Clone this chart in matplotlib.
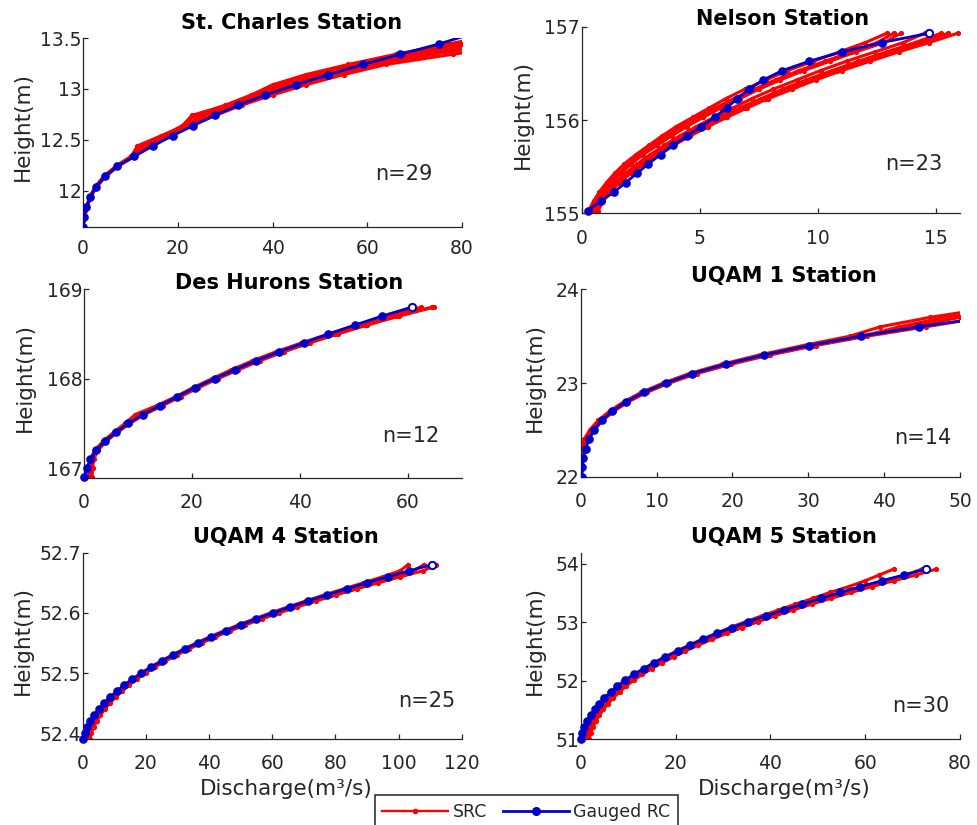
import matplotlib
matplotlib.use("Agg")
import matplotlib.pyplot as plt
from matplotlib.ticker import FuncFormatter
from matplotlib.lines import Line2D

# ---- St. Charles ----
h_stc = [11.64, 11.74, 11.84, 11.94, 12.04, 12.14, 12.24, 12.34, 12.44, 12.54,
         12.64, 12.74, 12.84, 12.94, 13.04, 13.14, 13.24, 13.34, 13.44, 13.54]
q_stc = [0, 0.2, 0.7, 1.55, 2.8, 4.65, 7.26, 10.85, 14.8, 18.9,
         23.3, 27.8, 32.8, 38.5, 44.9, 51.8, 59.1, 67.0, 75.05, 82]
src_stc = [
    [0, 0.3, 0.8, 1.4, 2.6, 4.4, 6.9, 10.2, 11.5, 16.5, 21.5, 23.5, 30, 35.5, 40, 47, 56, 66, 77, 88],
    [0, 0.3, 0.8, 1.5, 2.7, 4.5, 7.0, 10.5, 12.5, 17.5, 22.0, 25.5, 31, 37, 42, 49, 58, 68, 80, 92],
    [0, 0.3, 0.9, 1.6, 2.8, 4.6, 7.2, 10.8, 13.5, 18, 22.5, 27, 32, 38, 44, 51.5, 60, 71, 84, 97],
    [0, 0.3, 0.9, 1.6, 2.9, 4.8, 7.4, 11.0, 14.5, 18.5, 23.0, 28, 33.5, 40, 47, 55, 64, 78, 93, 108],
    [0, 0.25, 0.8, 1.5, 2.7, 4.5, 7.1, 10.6, 12, 17, 21, 23, 30.5, 36, 41, 48, 57, 67, 79, 91],
    [0, 0.3, 0.85, 1.55, 2.75, 4.55, 7.1, 10.7, 11.8, 17.2, 22.2, 24.5, 31.5, 37.5, 43, 50, 58.5, 69, 81, 94],
    [0, 0.3, 0.9, 1.6, 2.85, 4.7, 7.3, 10.9, 14, 18.2, 22.8, 27.5, 33, 39, 45.5, 53, 62, 74, 88, 102],
]

# ---- Nelson ----
h_nel = [155.03, 155.13, 155.23, 155.33, 155.43, 155.53, 155.63, 155.73, 155.83, 155.93,
         156.03, 156.13, 156.23, 156.33, 156.43, 156.53, 156.63, 156.73, 156.83, 156.93]
q_nel = [0.25, 0.82, 1.37, 1.87, 2.34, 2.82, 3.34, 3.87, 4.46, 5.06,
         5.62, 6.13, 6.58, 7.08, 7.68, 8.49, 9.62, 11.0, 12.69, 14.69]
src_nel = [
    [0.3, 0.5, 0.75, 1.05, 1.4, 1.8, 2.3, 2.85, 3.4, 4.0, 4.7, 5.4, 6.1, 6.9, 7.8, 8.7, 9.8, 10.9, 12.0, 12.9],
    [0.4, 0.6, 0.9, 1.25, 1.65, 2.1, 2.6, 3.2, 3.8, 4.45, 5.15, 5.9, 6.7, 7.5, 8.4, 9.4, 10.5, 11.6, 12.8, 13.5],
    [0.5, 0.7, 1.0, 1.4, 1.85, 2.35, 2.9, 3.5, 4.15, 4.85, 5.6, 6.4, 7.2, 8.1, 9.1, 10.1, 11.2, 12.4, 13.6, 14.5],
    [0.7, 0.9, 1.2, 1.6, 2.1, 2.65, 3.25, 3.9, 4.6, 5.35, 6.15, 7.0, 7.9, 8.9, 9.9, 11.0, 12.2, 13.4, 14.7, 15.9],
    [0.5, 0.75, 1.1, 1.5, 1.95, 2.5, 3.05, 3.7, 4.35, 5.05, 5.85, 6.7, 7.6, 8.5, 9.5, 10.6, 11.7, 12.9, 14.1, 15.2],
    [0.35, 0.55, 0.85, 1.2, 1.55, 2.0, 2.45, 3.0, 3.6, 4.2, 4.9, 5.65, 6.45, 7.3, 8.2, 9.2, 10.3, 11.4, 12.5, 13.2],
    [0.6, 0.8, 1.15, 1.55, 2.0, 2.55, 3.15, 3.8, 4.5, 5.2, 6.0, 6.85, 7.75, 8.7, 9.7, 10.8, 11.95, 13.1, 14.4, 15.5],
]

# ---- Des Hurons ----
h_dh = [166.9, 167.0, 167.1, 167.2, 167.3, 167.4, 167.5, 167.6, 167.7, 167.8,
        167.9, 168.0, 168.1, 168.2, 168.3, 168.4, 168.5, 168.6, 168.7, 168.8]
q_dh = [0.06, 0.5, 1.2, 2.3, 3.85, 5.87, 8.2, 11.0, 14.1, 17.3,
        20.55, 24.2, 27.9, 31.8, 36.1, 40.7, 45.3, 50.2, 55.2, 60.7]
src_dh = [
    [0.8, 1.0, 1.1, 2.0, 3.5, 5.5, 7.6, 9.5, 13.5, 17.0, 20.2, 23.7, 27.3, 31.2, 35.5, 40.3, 45.3, 50.6, 56.2, 62.5],
    [1.2, 1.3, 1.5, 2.4, 3.9, 6.0, 8.3, 10.5, 14.3, 17.6, 20.9, 24.5, 28.3, 32.3, 36.7, 41.5, 46.6, 52.0, 57.8, 64.5],
    [1.5, 1.6, 1.8, 2.6, 4.1, 6.2, 8.5, 11.2, 14.6, 17.9, 21.2, 24.8, 28.6, 32.6, 37.0, 41.8, 47.0, 52.5, 58.4, 64.8],
]

# ---- UQAM 1 ----
h_u1 = [22.0, 22.1, 22.2, 22.3, 22.4, 22.5, 22.6, 22.7, 22.8, 22.9,
        23.0, 23.1, 23.2, 23.3, 23.4, 23.5, 23.6, 23.7]
q_u1 = [0.2, 0.2, 0.35, 0.66, 1.1, 1.8, 2.77, 4.17, 5.98, 8.3,
        11.25, 14.7, 19.1, 24.2, 30.1, 36.9, 44.6, 53.5]
hs_u1 = [22.2, 22.3, 22.4, 22.5, 22.6, 22.7, 22.8, 22.9, 23.0, 23.1,
         23.2, 23.3, 23.4, 23.5, 23.6, 23.7, 23.8]
src_u1 = [
    [0.0, 0.2, 0.45, 1.2, 2.3, 3.8, 5.7, 8.0, 10.9, 14.3, 18.6, 23.6, 29.3, 35.5, 39.5, 46, 54],
    [0.1, 0.3, 0.6, 1.5, 2.6, 4.1, 6.0, 8.4, 11.3, 14.8, 19.2, 24.3, 30.2, 36.8, 43.5, 50, 58],
    [0.3, 0.5, 0.9, 1.8, 2.9, 4.4, 6.3, 8.7, 11.7, 15.3, 19.8, 25.0, 31.0, 37.8, 45.5, 53, 62],
    [0.2, 0.4, 0.75, 1.6, 2.7, 4.2, 6.1, 8.5, 11.5, 15.0, 19.5, 24.7, 30.6, 37.2, 42.0, 48, 56],
]

# ---- UQAM 4 ----
h_u4 = [52.39, 52.40, 52.41, 52.42, 52.43, 52.44, 52.45, 52.46, 52.47, 52.48,
        52.49, 52.50, 52.51, 52.52, 52.53, 52.54, 52.55, 52.56, 52.57, 52.58,
        52.59, 52.60, 52.61, 52.62, 52.63, 52.64, 52.65, 52.66, 52.67, 52.68]
q_u4 = [0.2, 0.7, 1.5, 2.3, 3.6, 5.1, 6.75, 8.65, 10.8, 13.1,
        15.7, 18.6, 21.6, 25, 28.5, 32.4, 36.4, 40.6, 45.3, 50,
        54.9, 60.2, 65.7, 71.4, 77.4, 83.6, 89.9, 96.6, 103.4, 110.5]
src_u4 = [
    [1.0, 1.5, 2.2, 3.0, 4.2, 5.6, 7.2, 9.0, 11.0, 13.3, 15.8, 18.6, 21.6, 24.8, 28.3,
     32.0, 36.0, 40.2, 44.6, 49.3, 54.3, 59.5, 65.0, 70.7, 76.6, 82.7, 88.9, 95.0, 100.5, 103],
    [1.5, 2.0, 2.8, 3.7, 4.9, 6.3, 7.9, 9.7, 11.7, 13.9, 16.4, 19.2, 22.2, 25.5, 29.0,
     32.8, 36.8, 41.1, 45.6, 50.4, 55.5, 60.9, 66.5, 72.4, 78.5, 84.8, 91.3, 98.0, 104.8, 108],
    [2.2, 2.7, 3.5, 4.4, 5.6, 7.0, 8.6, 10.4, 12.4, 14.6, 17.1, 19.9, 22.9, 26.2, 29.8,
     33.6, 37.7, 42.0, 46.6, 51.5, 56.7, 62.2, 68.0, 74.0, 80.3, 86.8, 93.6, 100.6, 107.8, 112],
]

# ---- UQAM 5 ----
h_u5 = [51.01, 51.11, 51.21, 51.31, 51.41, 51.51, 51.61, 51.71, 51.81, 51.91,
        52.01, 52.11, 52.21, 52.31, 52.41, 52.51, 52.61, 52.71, 52.81, 52.91,
        53.01, 53.11, 53.21, 53.31, 53.41, 53.51, 53.61, 53.71, 53.81, 53.91]
q_u5 = [0, 0.3, 0.8, 1.4, 2.1, 3.0, 3.9, 5.0, 6.3, 7.7,
        9.3, 11.2, 13.3, 15.5, 17.8, 20.5, 23.0, 25.8, 28.7, 31.9,
        35.3, 39.1, 42.9, 46.7, 50.7, 54.7, 59.0, 63.5, 68.2, 72.8]
src_u5 = [
    [0.6, 0.9, 1.3, 1.9, 2.6, 3.5, 4.4, 5.5, 6.7, 8.1, 9.6, 11.4, 13.4, 15.5, 17.8,
     20.3, 22.9, 25.6, 28.5, 31.5, 34.8, 38.2, 41.7, 45.3, 49.0, 52.6, 56.5, 60.0, 63.0, 66.0],
    [1.2, 1.5, 2.0, 2.6, 3.3, 4.2, 5.1, 6.2, 7.4, 8.8, 10.3, 12.1, 14.1, 16.2, 18.6,
     21.1, 23.7, 26.5, 29.5, 32.7, 36.0, 39.5, 43.2, 47.0, 51.0, 55.2, 59.5, 64.0, 68.6, 72.0],
    [1.8, 2.1, 2.6, 3.2, 3.9, 4.8, 5.8, 6.9, 8.2, 9.6, 11.2, 13.0, 15.0, 17.2, 19.6,
     22.1, 24.8, 27.7, 30.8, 34.0, 37.4, 41.0, 44.8, 48.7, 52.8, 57.0, 61.4, 66.0, 70.8, 75.0],
]

titles = ["St. Charles Station", "Nelson Station", "Des Hurons Station",
          "UQAM 1 Station", "UQAM 4 Station", "UQAM 5 Station"]
n_text = ["n=29", "n=23", "n=12", "n=14", "n=25", "n=30"]

W, H = 977, 825
blue = (0.0, 0.0, 0.8)
dark = "#262626"

# panel layout in pixels: left, right, top, bottom
boxes = [(83, 462, 38, 227.3), (581.7, 960, 26.7, 213.3),
         (84, 461.7, 289.3, 478), (580.7, 960, 289.3, 476.7),
         (82.7, 461.7, 552.7, 739.3), (580.7, 960, 552.7, 739.3)]

panels = [
    dict(h=h_stc, q=q_stc, hs=h_stc, src=src_stc, xlim=(0, 80), ylim=(11.64, 13.5),
         xt=[0, 20, 40, 60, 80], yt=[12, 12.5, 13, 13.5], tb=29.3, tx=0.55,
         nx=0.847, ny=0.279, lx=-50, xpad=8.3, clip=True),
    dict(h=h_nel, q=q_nel, hs=h_nel, src=src_nel, xlim=(0, 16), ylim=(155, 157),
         xt=[0, 5, 10, 15], yt=[155, 156, 157], tb=25, tx=0.531,
         nx=0.877, ny=0.263, lx=-48.4, xpad=11, clip=False),
    dict(h=h_dh, q=q_dh, hs=h_dh, src=src_dh, xlim=(0, 70), ylim=(166.89, 169),
         xt=[0, 20, 40, 60], yt=[167, 168, 169], tb=289.3, tx=0.542,
         nx=0.866, ny=0.225, lx=-49, xpad=11, clip=False),
    dict(h=h_u1, q=q_u1, hs=hs_u1, src=src_u1, xlim=(0, 50), ylim=(22, 24),
         xt=[0, 10, 20, 30, 40, 50], yt=[22, 23, 24], tb=281.5, tx=0.535,
         nx=0.902, ny=0.209, lx=-35.7, xpad=11, clip=True),
    dict(h=h_u4, q=q_u4, hs=h_u4, src=src_u4, xlim=(0, 120), ylim=(52.39, 52.7),
         xt=[0, 20, 40, 60, 80, 100, 120], yt=[52.4, 52.5, 52.6, 52.7], tb=543.3, tx=0.535,
         nx=0.908, ny=0.204, lx=-49.4, xpad=10.8, clip=False),
    dict(h=h_u5, q=q_u5, hs=h_u5, src=src_u5, xlim=(0, 80), ylim=(51, 54.19),
         xt=[0, 20, 40, 60, 80], yt=[51, 52, 53, 54], tb=543.3, tx=0.535,
         nx=0.897, ny=0.177, lx=-35.7, xpad=10.8, clip=False),
]

plt.rcParams['font.family'] = ['DejaVu Sans']
fig = plt.figure(figsize=(W / 100, H / 100), dpi=100)
fmt = FuncFormatter(lambda v, p: "%g" % round(v, 4))

for i, p in enumerate(panels):
    l, r, t, b = boxes[i]
    ax = fig.add_axes([l / W, 1 - b / H, (r - l) / W, (b - t) / H])
    for qs in p["src"]:
        ax.plot(qs, p["hs"], color="red", lw=2.2, marker=".", ms=5.5, zorder=2)
    ax.plot(p["q"], p["h"], color=blue, lw=2, marker="o", ms=5.2, mfc=blue, mec=blue,
            zorder=3, clip_on=p["clip"])
    ax.plot(p["q"][-1:], p["h"][-1:], ls="none", marker="o", ms=5.2, mfc="white",
            mec=blue, mew=1.4, zorder=4, clip_on=p["clip"])
    ax.set_xlim(*p["xlim"])
    ax.set_ylim(*p["ylim"])
    ax.set_xticks(p["xt"])
    ax.set_yticks(p["yt"])
    ax.xaxis.set_major_formatter(fmt)
    ax.yaxis.set_major_formatter(fmt)
    for s in ["top", "right"]:
        ax.spines[s].set_visible(False)
    for s in ["left", "bottom"]:
        ax.spines[s].set_color(dark)
        ax.spines[s].set_linewidth(0.9)
    ax.tick_params(axis="both", direction="in", length=3.5, width=0.9, colors=dark,
                   labelsize=13.5, labelcolor=dark)
    ax.tick_params(axis="y", pad=1.2)
    ax.tick_params(axis="x", pad=p["xpad"])
    ax.set_title(titles[i], fontsize=15, fontweight="bold", color="black",
                 x=p["tx"], y=1 + (t - p["tb"]) / (b - t), pad=0)
    ax.set_ylabel("Height(m)", fontsize=15.5, color=dark)
    ax.yaxis.set_label_coords(p["lx"] / (r - l), 0.53)
    ax.text(p["nx"], p["ny"], n_text[i], transform=ax.transAxes, fontsize=15,
            color=dark, ha="center", va="center")
    if i >= 4:
        ax.set_xlabel("Discharge(m³/s)", fontsize=15.5, color=dark)
        ax.xaxis.set_label_coords(0.536, -(779 - b) / (b - t))

handles = [Line2D([], [], color="red", lw=1.7, marker=".", ms=6),
           Line2D([], [], color=blue, lw=2, marker="o", ms=5.5, mfc=blue)]
leg = fig.legend(handles, ["SRC", "Gauged RC"], loc="upper center",
                 bbox_to_anchor=(526.3 / W, 1 - 795 / H), ncol=2, numpoints=1,
                 fontsize=12.5, frameon=True, fancybox=False, handlelength=3.8,
                 handletextpad=0.25, columnspacing=0.9, borderpad=0.45,
                 borderaxespad=0)
leg.get_frame().set_edgecolor("black")
leg.get_frame().set_linewidth(1.2)
for txt in leg.get_texts():
    txt.set_color(dark)

fig.savefig("out.png", dpi=100)
